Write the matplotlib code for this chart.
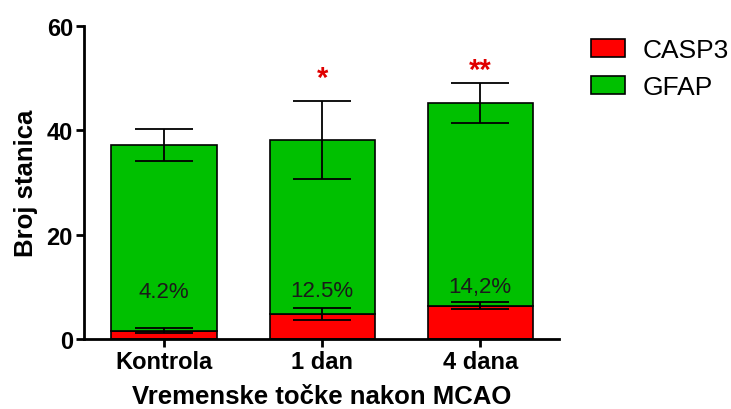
import numpy as np
import matplotlib
matplotlib.use("Agg")
import matplotlib.pyplot as plt

plt.rcParams["font.family"] = ["Liberation Sans", "DejaVu Sans"]

groups = ["Kontrola", "1 dan", "4 dana"]
casp3 = [1.6, 4.8, 6.4]
casp3_err = [0.45, 1.2, 0.6]
total = [37.2, 38.2, 45.2]
total_err = [3.1, 7.5, 3.85]
pct_labels = ["4.2%", "12.5%", "14,2%"]
pct_y = [9.0, 9.2, 10.1]
stars = ["", "*", "**"]
star_y = [0, 50.0, 51.5]

x = np.arange(len(groups))
gfap = [t - c for t, c in zip(total, casp3)]

fig = plt.figure(figsize=(7.31, 4.10), dpi=100)
ax = fig.add_axes([0.115, 0.171, 0.65, 0.763])

w = 0.665
ax.bar(x, casp3, w, color="#ff0000", edgecolor="black", linewidth=1.2, label="CASP3", zorder=2)
ax.bar(x, gfap, w, bottom=casp3, color="#00c000", edgecolor="black", linewidth=1.2, label="GFAP", zorder=2)
ax.errorbar(x, casp3, yerr=casp3_err, fmt="none", ecolor="black", elinewidth=1.3, capsize=21, capthick=1.3, zorder=3)
ax.errorbar(x, total, yerr=total_err, fmt="none", ecolor="black", elinewidth=1.3, capsize=21, capthick=1.3, zorder=3)

for xi, lab, yy in zip(x, pct_labels, pct_y):
    ax.text(xi, yy, lab, ha="center", va="center", fontsize=16, color="#1a1a1a", zorder=4)
for xi, s, yy in zip(x, stars, star_y):
    if s:
        ax.text(xi, yy, s, ha="center", va="center", fontsize=21, fontweight="bold", color="#e00000")

ax.set_xlim(-0.506, 2.5)
ax.set_ylim(0, 60)
ax.set_yticks([0, 20, 40, 60])
ax.set_xticks(x)
ax.set_xticklabels(groups)
for lab in ax.get_xticklabels() + ax.get_yticklabels():
    lab.set_fontweight("bold")
    lab.set_fontsize(17)
ax.spines["top"].set_visible(False)
ax.spines["right"].set_visible(False)
ax.spines["left"].set_linewidth(2)
ax.spines["bottom"].set_linewidth(2)
ax.tick_params(width=2, length=6, direction="out", pad=2)
ax.set_ylabel("Broj stanica", fontsize=18.5, fontweight="bold", labelpad=6)
ax.set_xlabel("Vremenske točke nakon MCAO", fontsize=18.5, fontweight="bold", labelpad=8)

ax.legend(loc="upper left", bbox_to_anchor=(1.067, 0.962), frameon=False, fontsize=19,
          handlelength=1.29, handleheight=0.68, handletextpad=0.68, labelspacing=0.5,
          borderpad=0, borderaxespad=0)

fig.savefig("out.png", dpi=100)
